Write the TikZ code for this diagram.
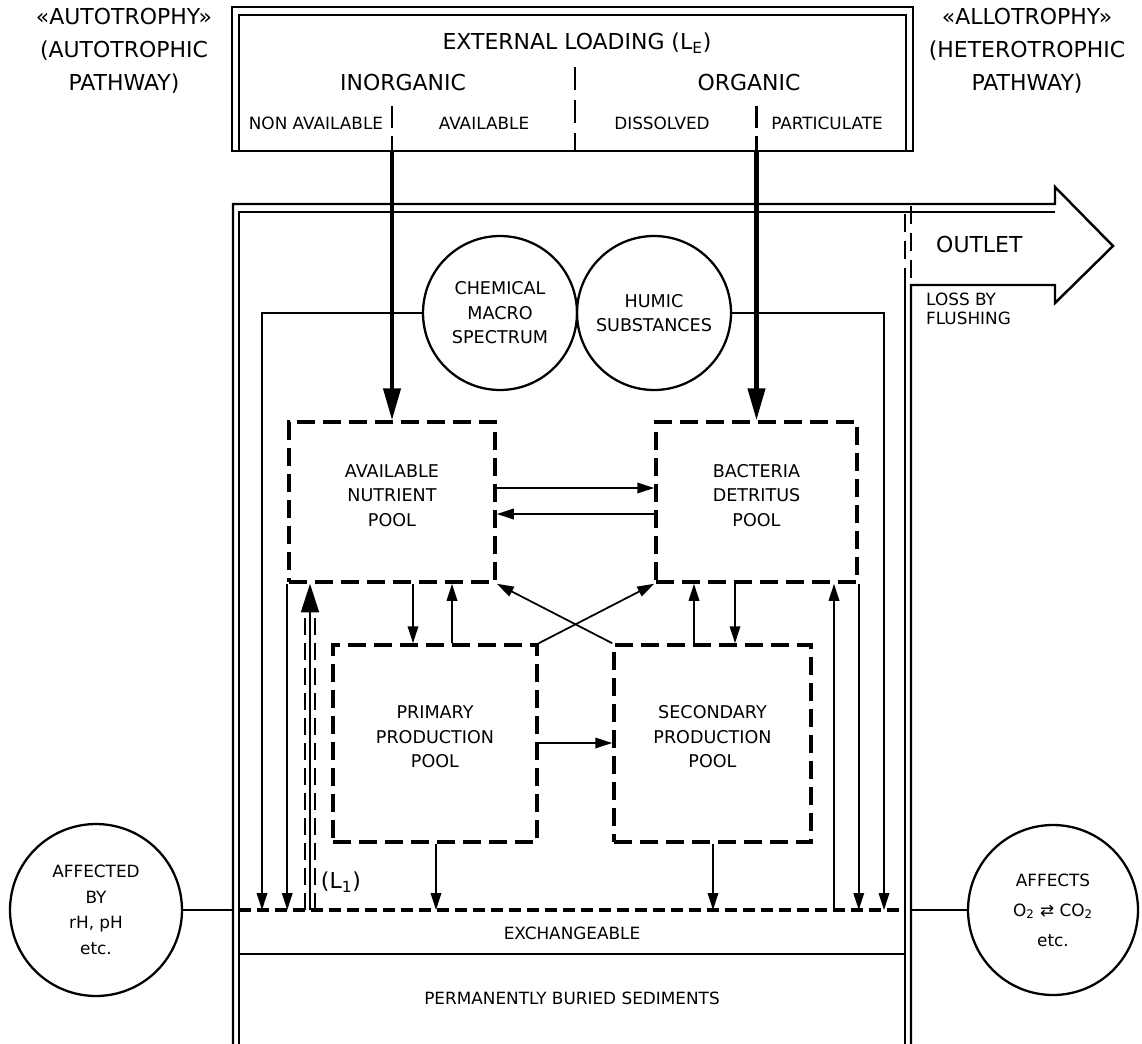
\documentclass[tikz,border=0pt]{standalone}
\usepackage{fontspec}
\setmainfont{DejaVu Sans}
\usetikzlibrary{arrows.meta,fit,positioning}

\newcommand{\hdfont}{\fontsize{12.5}{18.7}\selectfont}
\newcommand{\ntfont}{\fontsize{9.6}{14}\selectfont}
\newcommand{\plfont}{\fontsize{10}{13.9}\selectfont}

\tikzset{
  wall/.style={line width=1.4pt},
  pool/.style={draw, line width=2pt, dash pattern=on 3.6mm off 1.6mm, inner sep=0pt, align=center, font=\plfont},
  roundbox/.style={draw, circle, line width=1.3pt, inner sep=0pt, align=center, font=\plfont},
  flowarr/.style={line width=1pt, -{Triangle[length=3.4mm,width=2.1mm]}},
  inflow/.style={line width=2.4pt, -{Triangle[length=6.4mm,width=3.4mm]}},
  divider/.style={line width=1.4pt, dash pattern=on 4.4mm off 1.6mm},
}

\begin{document}
\begin{tikzpicture}[x=0.02cm,y=-0.02cm]
\useasboundingbox (0,0) rectangle (1142,1044);

% pathways
\node[font=\hdfont, align=center] (auto) at (124,51) {«AUTOTROPHY»\\(AUTOTROPHIC\\PATHWAY)};
\node[font=\hdfont, align=center] (allo) at (1027,51) {«ALLOTROPHY»\\(HETEROTROPHIC\\PATHWAY)};

% external loading box
\node[draw, wall, fit={(232,7) (913,151)}, inner sep=0pt] (loading) {};
\draw[wall] (239,151) |- (906,15) -- (906,151);
\node[font=\hdfont] (ext) at (577,43) {EXTERNAL LOADING (L\textsubscript{E})};
\node[font=\hdfont] (inorg) at (403,83) {INORGANIC};
\node[font=\hdfont] (org) at (749,83) {ORGANIC};
\node[font=\ntfont] (nonav) at (316,123) {NON AVAILABLE};
\node[font=\ntfont] (av) at (484,123) {AVAILABLE};
\node[font=\ntfont] (diss) at (662,123) {DISSOLVED};
\node[font=\ntfont] (part) at (827,123) {PARTICULATE};
\draw[divider, dash pattern=on 4.6mm off 2mm] (575,67) -- (575,151);

% lake with outlet
\draw[wall] (233,1044) -- (233,204) -- (1055,204) -- (1055,187) -- (1113,246) -- (1055,303) -- (1055,285) -- (911,285) -- (911,1044);
\draw[wall] (239,1044) -- (239,212) -- (1055,212);
\draw[wall] (905,285) -- (905,1044);
\draw[wall, dash pattern=on 3.6mm off 1.8mm] (905,214) -- (905,285) (911,206) -- (911,285);
\node[font=\hdfont, anchor=west] (outlet) at (930,245) {OUTLET};
\node[font=\fontsize{9.6}{11}\selectfont, align=left, anchor=west] (loss) at (920,309) {LOSS BY\\FLUSHING};

% pools
\node[pool, fit={(289,422) (495,582)}] (avail) {AVAILABLE\\NUTRIENT\\POOL};
\node[pool, fit={(656,422) (857,582)}] (bact) {BACTERIA\\DETRITUS\\POOL};
\node[pool, fit={(333,645) (537,842)}] (prim) {PRIMARY\\PRODUCTION\\POOL};
\node[pool, fit={(614,645) (811,842)}] (secd) {SECONDARY\\PRODUCTION\\POOL};

% circles
\node[roundbox, minimum size=3.08cm] (chem) at (500,313) {CHEMICAL\\MACRO\\SPECTRUM};
\node[roundbox, minimum size=3.08cm] (humic) at (654,313) {HUMIC\\SUBSTANCES};
\node[roundbox, minimum size=3.44cm, font=\fontsize{9.6}{14.6}\selectfont] (affby) at (96,910) {AFFECTED\\BY\\rH, pH\\etc.};
\node[roundbox, minimum size=3.4cm, font=\fontsize{9.6}{17}\selectfont] (affects) at (1053,910) {AFFECTS\\O\textsubscript{2} ⇄ CO\textsubscript{2}\\etc.};

% sediments
\coordinate (exL) at (239,910);
\coordinate (exR) at (905,910);
\coordinate (lakeW) at (233,910);
\coordinate (lakeE) at (911,910);
\draw[line width=2pt, dash pattern=on 2.4mm off 1.2mm] (exL) -- (exR);
\draw[wall] (exL |- 0,954) -- (exR |- 0,954);
\draw[wall] (affby.east) -- (lakeW);
\draw[wall] (lakeE) -- (affects.west);
\node[font=\ntfont] (exch) at (572,933) {EXCHANGEABLE};
\node[font=\ntfont] (buried) at (572,998) {PERMANENTLY BURIED SEDIMENTS};

% external loading into pools
\draw[divider] (loading.south -| avail.north) ++(0,-46) -- (loading.south -| avail.north);
\draw[divider] (loading.south -| bact.north) ++(0,-46) -- (loading.south -| bact.north);
\draw[inflow] (loading.south -| avail.north) -- (avail.north);
\draw[inflow] (loading.south -| bact.north) -- (bact.north);

% exchanges between pools
\draw[flowarr] (avail.east |- 0,488) -- (bact.west |- 0,488);
\draw[flowarr] (bact.west |- 0,514) -- (avail.east |- 0,514);
\draw[flowarr] (avail.south -| 413,0) -- (prim.north -| 413,0);
\draw[flowarr] (prim.north -| 452,0) -- (avail.south -| 452,0);
\draw[flowarr] (prim.north east) -- (bact.south west);
\draw[flowarr] (secd.north west) -- (avail.south east);
\draw[flowarr] (secd.north -| 694,0) -- (bact.south -| 694,0);
\draw[flowarr] (bact.south -| 735,0) -- (secd.north -| 735,0);
\draw[flowarr] (prim.east |- 0,743) -- (secd.west |- 0,743);

% to and from the sediments
\draw[flowarr] (prim.south -| 436,0) -- (exL -| 436,0);
\draw[flowarr] (secd.south -| 713,0) -- (exL -| 713,0);
\draw[flowarr] (chem.west) -| (exL -| 262,0);
\draw[flowarr] (avail.south west) -- (exL -| avail.south west);
\draw[flowarr] (humic.east) -| (exL -| 884,0);
\draw[flowarr] (bact.south east) -- (exL -| bact.south east);
\draw[flowarr] (exL -| 834,0) -- (bact.south -| 834,0);

% internal loading
\draw[line width=0.9pt, -{Triangle[length=5.7mm,width=3.6mm]}] (exL -| 310,0) -- (avail.south -| 310,0);
\draw[line width=1.5pt, dash pattern=on 3.4mm off 1.6mm] (305,910) -- (305,615) (315,910) -- (315,615);
\node[font=\hdfont] (lone) at (341,882) {(L\textsubscript{1})};
\end{tikzpicture}
\end{document}
